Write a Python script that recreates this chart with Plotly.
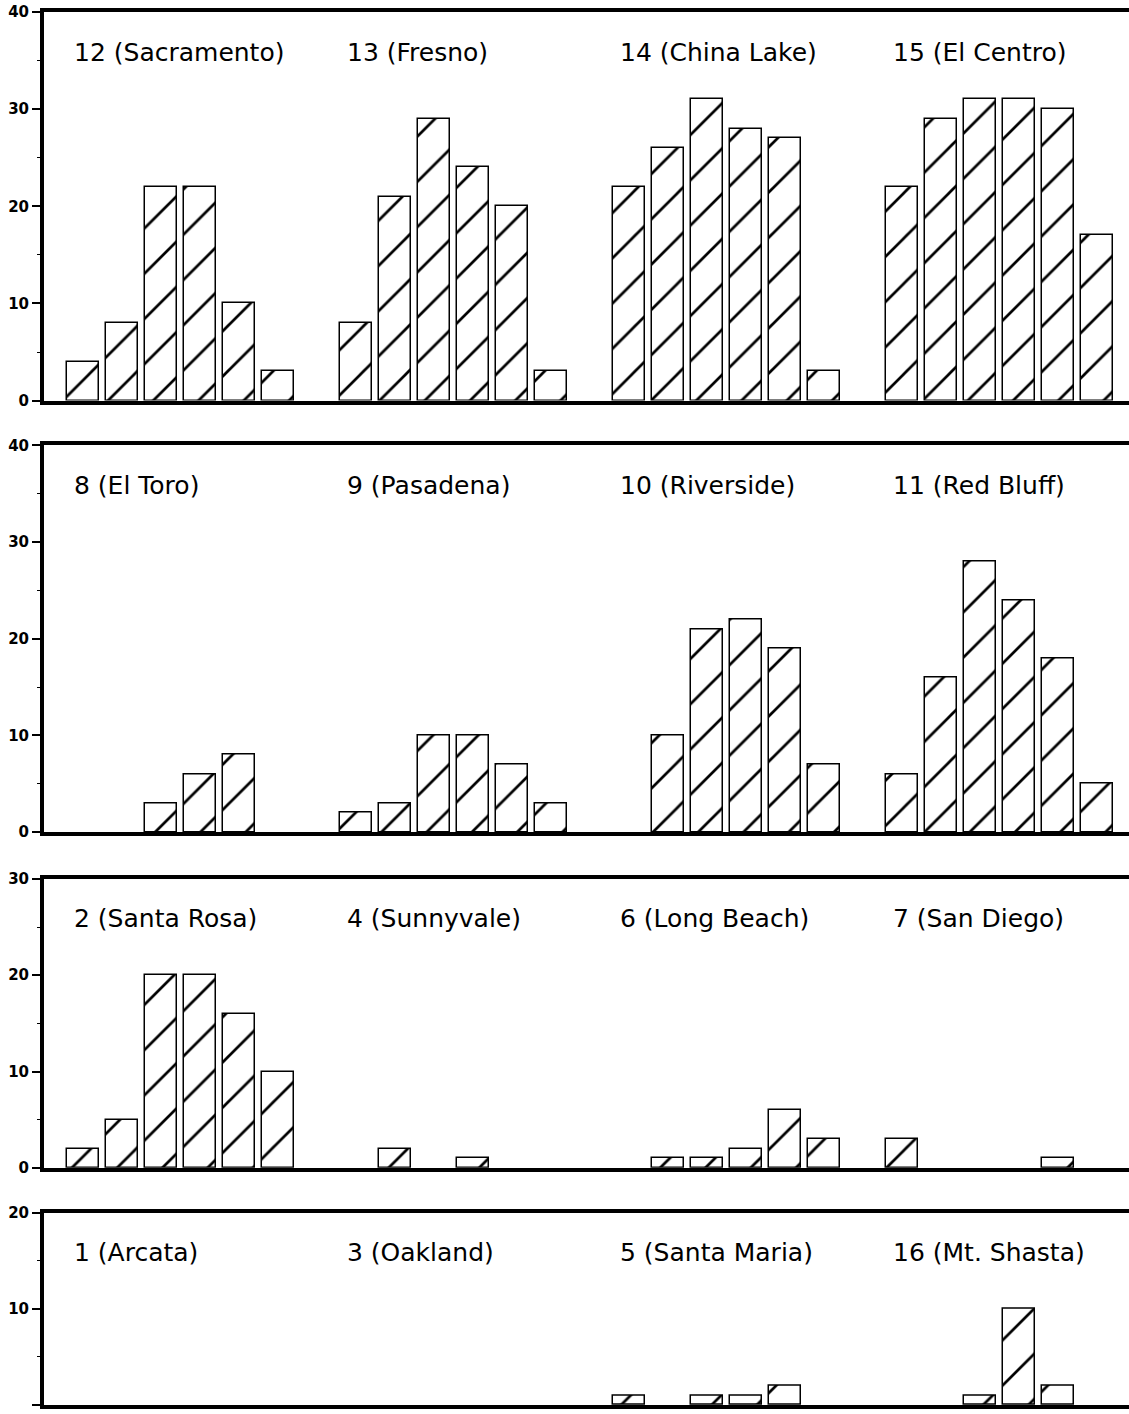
import plotly.graph_objects as go

# ---- data (6 bars per station) ----
row1_names = ["12 (Sacramento)", "13 (Fresno)", "14 (China Lake)", "15 (El Centro)"]
sacramento = [4, 8, 22, 22, 10, 3]
fresno = [8, 21, 29, 24, 20, 3]
china_lake = [22, 26, 31, 28, 27, 3]
el_centro = [22, 29, 31, 31, 30, 17]

row2_names = ["8 (El Toro)", "9 (Pasadena)", "10 (Riverside)", "11 (Red Bluff)"]
el_toro = [0, 0, 3, 6, 8, 0]
pasadena = [2, 3, 10, 10, 7, 3]
riverside = [0, 10, 21, 22, 19, 7]
red_bluff = [6, 16, 28, 24, 18, 5]

row3_names = ["2 (Santa Rosa)", "4 (Sunnyvale)", "6 (Long Beach)", "7 (San Diego)"]
santa_rosa = [2, 5, 20, 20, 16, 10]
sunnyvale = [0, 2, 0, 1, 0, 0]
long_beach = [0, 1, 1, 2, 6, 3]
san_diego = [3, 0, 0, 0, 1, 0]

row4_names = ["1 (Arcata)", "3 (Oakland)", "5 (Santa Maria)", "16 (Mt. Shasta)"]
arcata = [0, 0, 0, 0, 0, 0]
oakland = [0, 0, 0, 0, 0, 0]
santa_maria = [1, 0, 1, 1, 2, 0]
mt_shasta = [0, 0, 1, 10, 2, 0]

row_ymax = [40, 40, 30, 20]

rows = [
    (row1_names, [sacramento, fresno, china_lake, el_centro]),
    (row2_names, [el_toro, pasadena, riverside, red_bluff]),
    (row3_names, [santa_rosa, sunnyvale, long_beach, san_diego]),
    (row4_names, [arcata, oakland, santa_maria, mt_shasta]),
]

# ---- layout geometry (pixels) ----
W, H = 1129, 1414
mt, mb, ml, mr = 12, 4, 44, 0
ph = H - mt - mb
panel_px = [(12, 402), (447, 835), (882, 1172), (1217, 1410)]  # top, bottom

fig = go.Figure()
layout = dict(
    width=W, height=H,
    margin=dict(l=ml, r=mr, t=mt, b=mb),
    paper_bgcolor="white", plot_bgcolor="white",
    showlegend=False, bargap=0,
    font=dict(family="DejaVu Sans", color="black"),
)
annotations = []

for i, (names, series) in enumerate(rows):
    n = i + 1
    xs, ys = [], []
    for g, vals in enumerate(series):
        for m, v in enumerate(vals):
            xs.append(g * 7 + m)
            ys.append(v if v else None)
    xa = "x" if n == 1 else f"x{n}"
    ya = "y" if n == 1 else f"y{n}"
    fig.add_trace(go.Bar(
        x=xs, y=ys, xaxis=xa, yaxis=ya, width=0.82,
        marker=dict(
            color="white",
            line=dict(color="black", width=1.5),
            pattern=dict(shape="/", size=32, solidity=0.085,
                         fgcolor="black", bgcolor="white", fgopacity=1),
        ),
    ))
    top, bot = panel_px[i]
    d0 = (H - mb - bot) / ph
    d1 = (H - mb - top) / ph
    xkey = "xaxis" if n == 1 else f"xaxis{n}"
    ykey = "yaxis" if n == 1 else f"yaxis{n}"
    layout[xkey] = dict(
        domain=[0, 1], range=[-1, 26.82], anchor=ya,
        showline=True, linewidth=4, linecolor="black", mirror=True,
        showticklabels=False, ticks="", showgrid=False, zeroline=False,
    )
    layout[ykey] = dict(
        domain=[d0, d1], range=[0, row_ymax[i]], anchor=xa,
        showline=True, linewidth=4, linecolor="black",
        ticks="outside", ticklen=8, tickwidth=1.5, tickcolor="black",
        dtick=10, showgrid=False, zeroline=False,
        tickfont=dict(family="DejaVu Sans", size=15, color="black", weight="bold"),
        minor=dict(dtick=5, ticks="outside", ticklen=3, tickwidth=1, tickcolor="black"),
    )
    for g, name in enumerate(names):
        annotations.append(dict(
            text=name, x=g * 7 - 0.28, xref=xa,
            y=1, yref=f"{ya} domain", yshift=-40,
            xanchor="left", yanchor="middle", showarrow=False,
            font=dict(family="DejaVu Sans", size=25, color="black"),
        ))

layout["annotations"] = annotations
fig.update_layout(**layout)
fig.write_html(
    "out.html",
    config={"displayModeBar": False},
    post_script="document.body.style.margin='0px';document.body.style.overflow='hidden';",
)
